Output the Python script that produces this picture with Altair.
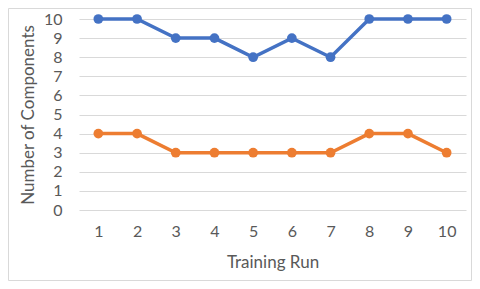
import altair as alt
import pandas as pd

runs = [1, 2, 3, 4, 5, 6, 7, 8, 9, 10]
series_a = [10, 10, 9, 9, 8, 9, 8, 10, 10, 10]
series_b = [4, 4, 3, 3, 3, 3, 3, 4, 4, 3]
series_names = ["Series A", "Series B"]
colors = ["#4472C4", "#ED7D31"]
y_ticks = [0, 1, 2, 3, 4, 5, 6, 7, 8, 9, 10]

rows = []
for r, a, b in zip(runs, series_a, series_b):
    rows.append({"run": r, "value": a, "series": series_names[0]})
    rows.append({"run": r, "value": b, "series": series_names[1]})
df = pd.DataFrame(rows)

W, H = 387, 191
FONT = "Lato"

base = alt.Chart(df).encode(
    x=alt.X(
        "run:O",
        scale=alt.Scale(type="point", padding=0.5),
        axis=alt.Axis(
            title="Training Run",
            labelAngle=0,
            ticks=False,
            tickSize=0,
            domain=False,
            grid=False,
            labelPadding=13,
            labelFont=FONT,
            labelFontSize=16,
            labelColor="#595959",
            titleFont=FONT,
            titleFontSize=17,
            titleFontWeight="normal",
            titleColor="#595959",
            titleBaseline="alphabetic",
            titleY=57,
        ),
    ),
    y=alt.Y(
        "value:Q",
        scale=alt.Scale(domain=[0, 10], nice=False, zero=True),
        axis=alt.Axis(
            title="Number of Components",
            values=y_ticks,
            ticks=False,
            tickSize=0,
            domain=False,
            gridColor="#d9d9d9",
            gridWidth=1,
            labelPadding=17,
            labelFont=FONT,
            labelFontSize=16,
            labelColor="#595959",
            titleFont=FONT,
            titleFontSize=17,
            titleFontWeight="normal",
            titleColor="#595959",
            titleBaseline="middle",
            titleX=-51,
        ),
    ),
    color=alt.Color(
        "series:N",
        scale=alt.Scale(domain=series_names, range=colors),
        legend=None,
    ),
)

lines = base.mark_line(strokeWidth=3.5).encode(detail="series:N")
points = base.mark_circle(size=95, opacity=1)

border = alt.Chart(pd.DataFrame({"k": [0]})).mark_rect(
    fill=None, stroke="#d9d9d9", strokeWidth=1
).encode(
    x=alt.value(-70.5),
    x2=alt.value(W + 5.5),
    y=alt.value(-10.5),
    y2=alt.value(H + 70.5),
)

chart = alt.layer(border, lines, points).properties(
    width=W,
    height=H,
    padding={"left": 71, "top": 11, "right": 6, "bottom": 71},
    autosize=alt.AutoSizeParams(type="none"),
    background="white",
).configure_view(stroke=None)

chart.save("out.html", embed_options={"renderer": "svg", "actions": False})
